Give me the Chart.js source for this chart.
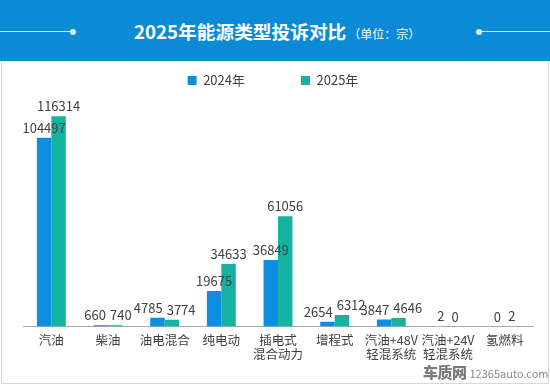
<!DOCTYPE html>
<html><head><meta charset="utf-8">
<script src="https://cdn.jsdelivr.net/npm/chart.js@4"></script>
<style>
html,body{margin:0;padding:0;background:#fff;width:550px;height:386px;overflow:hidden;font-family:"Noto Sans CJK SC",sans-serif;}
#hdr{position:absolute;left:0;top:0;width:550px;height:61px;background:#0b8ad6;}
.ln{position:absolute;top:31px;height:1px;background:#cde8f8;}
.dot{position:absolute;top:28.5px;width:6px;height:6px;border-radius:50%;background:#e6f4fc;}
#ttl{position:absolute;left:134px;top:19px;height:24px;line-height:24px;color:#fff;white-space:nowrap;font-family:"Noto Sans CJK SC",sans-serif;}
#ttl b{font-size:18.7px;font-weight:700;}
#ttl span{font-size:12px;font-weight:400;margin-left:2px;}
#frame{position:absolute;left:1px;top:61px;width:548px;height:323px;box-sizing:border-box;border:1px solid #d9d9d9;border-top:none;}
#c{position:absolute;left:0;top:59px;}
#wm{position:absolute;left:423px;top:359px;white-space:nowrap;color:#8a8a8a;}
#wm b{font-size:15px;font-weight:900;color:#7a7a7a;letter-spacing:-0.5px;}
#wm span{font-size:11px;margin-left:3px;}
</style></head>
<body>
<div id="hdr">
  <div class="ln" style="left:0;width:73px"></div><div class="dot" style="left:70px"></div>
  <div class="ln" style="left:479px;width:71px"></div><div class="dot" style="left:476px"></div>
  <div id="ttl"><b>2025年能源类型投诉对比</b><span>（单位：宗）</span></div>
</div>
<div id="frame"></div>
<canvas id="c" width="550" height="327"></canvas>
<div id="wm"><b>车质网</b><span>12365auto.com</span></div>
<script>
const categories = ['汽油', '柴油', '油电混合', '纯电动', ['插电式', '混合动力'], '增程式', ['汽油+48V', '轻混系统'], ['汽油+24V', '轻混系统'], '氢燃料'];
const seriesNames = ['2024年', '2025年'];
const values2024 = [104497, 660, 4785, 19675, 36849, 2654, 3847, 2, 0];
const values2025 = [116314, 740, 3774, 34633, 61056, 6312, 4646, 0, 2];

const FONT = '"Noto Sans CJK SC",sans-serif';
Chart.defaults.font.family = FONT;
Chart.defaults.color = '#404040';

const valueLabels = {
  id: 'valueLabels',
  afterDatasetsDraw(chart) {
    const ctx = chart.ctx;
    ctx.save();
    ctx.font = '13px ' + FONT;
    ctx.fillStyle = '#404040';
    ctx.textAlign = 'center';
    ctx.textBaseline = 'alphabetic';
    const m0 = chart.getDatasetMeta(0), m1 = chart.getDatasetMeta(1);
    const d0 = chart.data.datasets[0].data, d1 = chart.data.datasets[1].data;
    for (let i = 0; i < d0.length; i++) {
      const a = m0.data[i], b = m1.data[i];
      let ax = a.x, bx = b.x;
      const ay = a.y - 5, by = b.y - 5;
      const ta = String(d0[i]), tb = String(d1[i]);
      const wa = ctx.measureText(ta).width, wb = ctx.measureText(tb).width;
      if (Math.abs(ay - by) < 12) {
        const overlap = (ax + wa / 2 + 4) - (bx - wb / 2);
        if (overlap > 0) { ax -= overlap / 2; bx += overlap / 2; }
      }
      ctx.fillText(ta, ax, ay);
      ctx.fillText(tb, bx, by);
    }
    ctx.restore();
  }
};

new Chart(document.getElementById('c'), {
  type: 'bar',
  data: {
    labels: categories,
    datasets: [
      { label: seriesNames[0], data: values2024, backgroundColor: '#0e8ee0', borderWidth: 0 },
      { label: seriesNames[1], data: values2025, backgroundColor: '#14b3a1', borderWidth: 0 }
    ]
  },
  options: {
    responsive: false,
    animation: false,
    devicePixelRatio: 1,
    categoryPercentage: 0.51,
    barPercentage: 1,
    layout: { padding: { top: -41, left: 13, right: 17, bottom: 18 } },
    plugins: {
      legend: {
        position: 'top',
        labels: { boxWidth: 9, boxHeight: 9, padding: 56, color: '#404040', font: { size: 13 } }
      },
      tooltip: { enabled: false }
    },
    scales: {
      x: {
        grid: { display: false, drawTicks: false },
        border: { display: true, color: '#ababab', width: 1 },
        ticks: { color: '#404040', font: { size: 12.5, lineHeight: 1.1 }, padding: 7, maxRotation: 0, autoSkip: false }
      },
      y: {
        display: true, min: 0, max: 127000,
        grid: { display: false, drawTicks: false },
        border: { display: false },
        ticks: { display: false },
        afterFit(scale) { scale.width = 10; }
      }
    }
  },
  plugins: [valueLabels]
});
</script>
</body></html>
